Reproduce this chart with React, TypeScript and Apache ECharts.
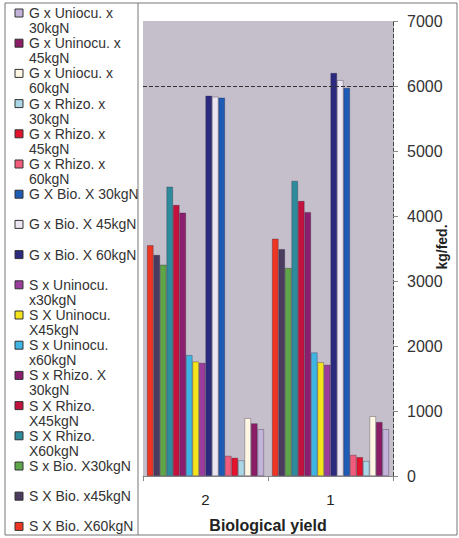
import React, { useEffect, useRef } from "react";
import * as echarts from "echarts";

// Category labels along the x axis
const categories = ["2", "1"];

// Yield values (kg/fed.) per treatment, in the order [2, 1]
const sBio60 = [3550, 3650];
const sBio45 = [3400, 3490];
const sBio30 = [3250, 3200];
const sRhizo60 = [4450, 4540];
const sRhizo45 = [4170, 4230];
const sRhizo30 = [4050, 4060];
const sUnin60 = [1860, 1900];
const sUnin45 = [1760, 1750];
const sUnin30 = [1740, 1710];
const gBio60 = [5850, 6200];
const gBio45 = [5835, 6090];
const gBio30 = [5820, 5970];
const gRhizo60 = [310, 325];
const gRhizo45 = [280, 290];
const gRhizo30 = [240, 230];
const gUnin60 = [890, 920];
const gUnin45 = [810, 830];
const gUnin30 = [720, 720];

// Treatments in drawing order (left to right inside each group)
const seriesNames = [
  "S X Bio. X60kgN",
  "S X Bio. x45kgN",
  "S x Bio. X30kgN",
  "S X Rhizo. X60kgN",
  "S X Rhizo. X45kgN",
  "S x Rhizo. X 30kgN",
  "S x Uninocu. x60kgN",
  "S X Uninocu. X45kgN",
  "S x Uninocu. x30kgN",
  "G x Bio. X 60kgN",
  "G x Bio. X 45kgN",
  "G X Bio. X 30kgN",
  "G x Rhizo. x 60kgN",
  "G x Rhizo. x 45kgN",
  "G x Rhizo. x 30kgN",
  "G x Uniocu. x 60kgN",
  "G x Uninocu. x 45kgN",
  "G x Uniocu. x 30kgN",
];

// Legend labels as wrapped in the key (same order as seriesNames)
const legendLabels = [
  "S X Bio. X60kgN",
  "S X Bio. x45kgN",
  "S x Bio. X30kgN",
  "S X Rhizo.\nX60kgN",
  "S X Rhizo.\nX45kgN",
  "S x Rhizo. X\n30kgN",
  "S x Uninocu.\nx60kgN",
  "S X Uninocu.\nX45kgN",
  "S x Uninocu.\nx30kgN",
  "G x Bio. X 60kgN",
  "G x Bio. X 45kgN",
  "G X Bio. X 30kgN",
  "G x Rhizo. x\n60kgN",
  "G x Rhizo. x\n45kgN",
  "G x Rhizo. x\n30kgN",
  "G x Uniocu. x\n60kgN",
  "G x Uninocu. x\n45kgN",
  "G x Uniocu. x\n30kgN",
];

const seriesValues = [
  sBio60, sBio45, sBio30,
  sRhizo60, sRhizo45, sRhizo30,
  sUnin60, sUnin45, sUnin30,
  gBio60, gBio45, gBio30,
  gRhizo60, gRhizo45, gRhizo30,
  gUnin60, gUnin45, gUnin30,
];

const seriesColors = [
  "#ee3524", "#4b3b5e", "#5fa648",
  "#2e8b9c", "#c4123f", "#8b1e6e",
  "#3fb5e3", "#f4e41c", "#9a3d9c",
  "#2b2a7f", "#ece6f2", "#1d5bb5",
  "#f25c7c", "#e3132d", "#aad6e6",
  "#fff7e3", "#8b1c66", "#c3b3d9",
];

const yTicks = { min: 0, max: 7000, step: 1000 };
const refLine = 6000;
const yUnit = "kg/fed.";

const FONT = '"Liberation Sans", Arial, sans-serif';

export default function App() {
  const ref = useRef<HTMLDivElement>(null);

  useEffect(() => {
    if (!ref.current) return;
    const chart = echarts.init(ref.current, undefined, { renderer: "svg" });

    // Key drawn on the left, listing treatments from the last bar to the first
    const legendGraphics: any[] = [];
    const order = seriesNames.map((_, i) => seriesNames.length - 1 - i);
    order.forEach((si, row) => {
      const cy = 13 + row * 30.2;
      legendGraphics.push({
        type: "rect",
        shape: { x: 15, y: cy - 4, width: 8, height: 8 },
        style: { fill: seriesColors[si], stroke: "#333", lineWidth: 1 },
        silent: true,
      });
      legendGraphics.push({
        type: "text",
        x: 29,
        y: cy - 7.5,
        style: {
          text: legendLabels[si],
          font: `14px ${FONT}`,
          fill: "#333",
          lineHeight: 15,
          verticalAlign: "top",
          align: "left",
        },
        silent: true,
      });
    });

    const option: any = {
      animation: false,
      backgroundColor: "#ffffff",
      grid: {
        left: 143,
        right: 66,
        top: 21,
        bottom: 62,
        show: true,
        backgroundColor: "#c5bfcc",
        borderWidth: 0,
        containLabel: false,
        outerBoundsMode: "none",
      },
      legend: { show: false, data: seriesNames },
      xAxis: {
        type: "category",
        data: categories,
        axisLine: { show: true, lineStyle: { color: "#888", width: 1 } },
        axisTick: { show: true, length: 5, lineStyle: { color: "#888" } },
        axisLabel: { fontSize: 15, color: "#222", margin: 16, fontFamily: FONT },
        name: "Biological yield",
        nameLocation: "middle",
        nameGap: 41,
        nameTextStyle: { fontSize: 16, fontWeight: "bold", color: "#222", fontFamily: FONT },
        splitLine: { show: false },
      },
      yAxis: {
        type: "value",
        position: "right",
        min: yTicks.min,
        max: yTicks.max,
        interval: yTicks.step,
        axisLine: { show: true, lineStyle: { color: "#444", type: "dashed", width: 1 } },
        axisTick: { show: true, length: 5, lineStyle: { color: "#888" } },
        axisLabel: {
          fontSize: 16,
          color: "#333",
          margin: 14,
          fontFamily: FONT,
          formatter: (v: number) => String(v),
        },
        splitLine: { show: false },
      },
      series: seriesNames.map((name, i) => ({
        type: "bar",
        name,
        data: seriesValues[i],
        barGap: "0%",
        barCategoryGap: "6.4%",
        itemStyle: {
          color: seriesColors[i],
          borderColor: "rgba(40,30,50,0.55)",
          borderWidth: 0.6,
        },
        ...(i === 0
          ? {
              markLine: {
                silent: true,
                symbol: "none",
                label: { show: false },
                lineStyle: { type: [4, 2], color: "#333", width: 1 },
                data: [{ yAxis: refLine }],
              },
            }
          : {}),
      })),
      graphic: [
        {
          type: "rect",
          shape: { x: 5, y: 3, width: 452, height: 532 },
          style: { fill: "none", stroke: "#777", lineWidth: 1 },
          silent: true,
          z: 100,
        },
        {
          type: "line",
          shape: { x1: 138, y1: 3, x2: 138, y2: 535 },
          style: { stroke: "#777", lineWidth: 1 },
          silent: true,
          z: 100,
        },
        {
          // unit label of the value axis, reading bottom to top
          type: "text",
          x: 442,
          y: 247,
          rotation: Math.PI / 2,
          style: {
            text: yUnit,
            font: `bold 14px ${FONT}`,
            fill: "#222",
            align: "center",
            verticalAlign: "middle",
          },
          silent: true,
          z: 100,
        },
        ...legendGraphics,
      ],
    };

    chart.setOption(option);
    return () => chart.dispose();
  }, []);

  return (
    <div
      ref={ref}
      style={{ position: "fixed", left: 0, top: 0, width: 459, height: 538 }}
    />
  );
}
